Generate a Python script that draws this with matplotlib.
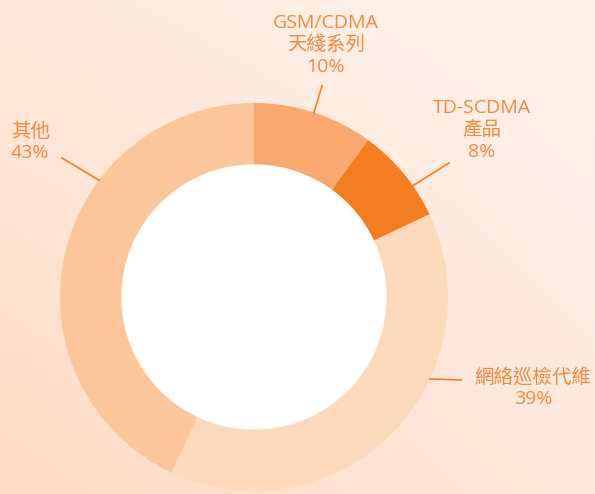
import numpy as np
import matplotlib
matplotlib.use("Agg")
import matplotlib.pyplot as plt
from matplotlib.colors import to_rgb

plt.rcParams['font.family'] = ['Open Sans', 'Noto Sans CJK TC', 'DejaVu Sans']

# Data
labels = ['GSM/CDMA\n天綫系列', 'TD-SCDMA\n產品', '網絡巡檢代維', '其他']
shares = [10, 8, 39, 43]
colors = ['#f9a870', '#f47d20', '#fcd9bb', '#fcc69a']

# Layout (pixel coordinates, y measured from top)
W, H = 595, 494
cx, cy = 254, 297
R_out, R_in = 194, 132
# leader: angle on ring (deg), outer end (x, y), text anchor (x, y), ha
label_layout = [
    (72, (322, 86), (326, 45), 'center'),
    (35, (449, 163), (482, 130), 'center'),
    (-25, (461, 380), (533, 388), 'center'),
    (143, (62, 158), (11, 142), 'left'),
]
text_color = '#f48a3c'
line_color = '#f47d20'

fig = plt.figure(figsize=(W / 100, H / 100), dpi=100)
ax = fig.add_axes([0, 0, 1, 1])

# background gradient: darker bottom-left, lighter top-right
c_tl, c_tr = np.array(to_rgb('#feeadd')), np.array(to_rgb('#fff3ec'))
c_bl, c_br = np.array(to_rgb('#fedac4')), np.array(to_rgb('#ffe8dc'))
u = np.linspace(0, 1, 200)[None, :, None]
v = np.linspace(0, 1, 200)[:, None, None]
top = c_tl * (1 - u) + c_tr * u
bot = c_bl * (1 - u) + c_br * u
grad = bot * (1 - v) + top * v
ax.imshow(grad, extent=[0, W, 0, H], origin='lower', zorder=0, aspect='auto')

ax.pie(shares, colors=colors, startangle=90, counterclock=False,
       center=(cx, H - cy), radius=R_out,
       wedgeprops=dict(width=R_out - R_in, linewidth=0), frame=True)
ax.add_patch(plt.Circle((cx, H - cy), R_in, color='white', zorder=3))
ax.set_xlim(0, W)
ax.set_ylim(0, H)
ax.set_aspect('equal')
ax.axis('off')

for lab, val, (ang, end, tpos, ha) in zip(labels, shares, label_layout):
    a = np.deg2rad(ang)
    x0 = cx + R_out * np.cos(a)
    y0 = (H - cy) + R_out * np.sin(a)
    ax.plot([x0, end[0]], [y0, H - end[1]], color=line_color, lw=1.2, zorder=4)
    ax.text(tpos[0], H - tpos[1], f'{lab}\n{val}%', ha=ha, va='center',
            multialignment=ha, fontsize=14, color=text_color,
            linespacing=1.27, zorder=5)

fig.savefig('out.png', dpi=100)
